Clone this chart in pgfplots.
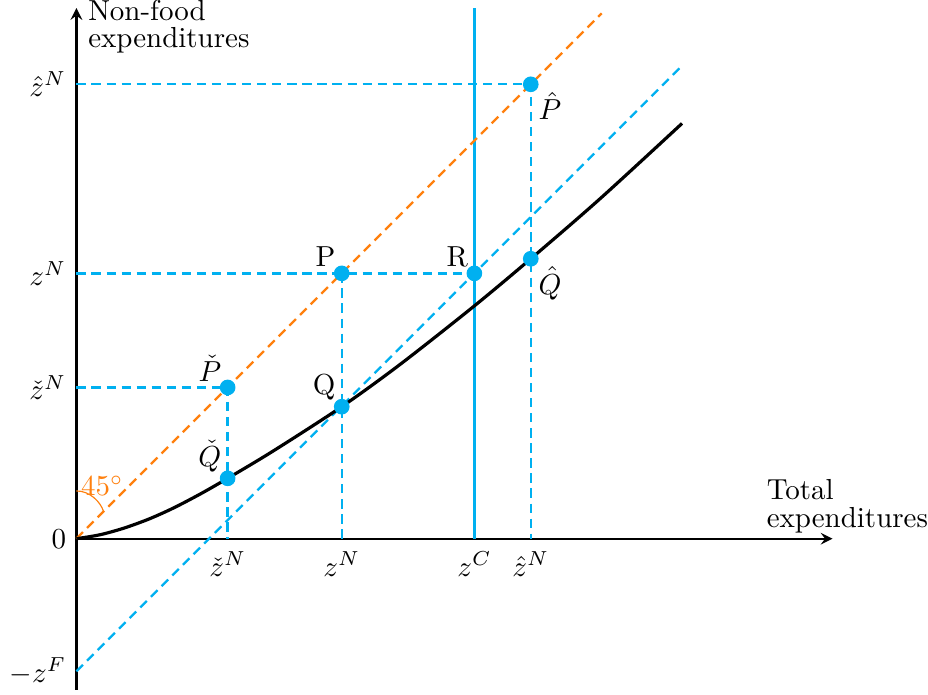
\documentclass[border=0pt]{standalone}
\usepackage{pgfplots}
\pgfplotsset{compat=1.18}
\definecolor{ccyan}{RGB}{0,176,240}
\definecolor{corange}{RGB}{255,128,14}
\tikzset{dsh/.style={thick, dash pattern=on 3.2pt off 2pt}}

\begin{document}
\begin{tikzpicture}
\begin{axis}[
    x=22.9pt, y=22.9pt,
    axis lines=middle,
    axis line style={thick},
    xmin=0, xmax=11.4, ymin=-2.28, ymax=8,
    xtick={2.28,4,6,6.85},
    xticklabels={$\check{z}^N$,$z^N$,$z^C$,$\hat{z}^N$},
    ytick={-2,0,2.28,4,6.85},
    yticklabels={$-z^F$,$0$,$\check{z}^N$,$z^N$,$\hat{z}^N$},
    xticklabel style={yshift=-1pt},
    major tick length=0pt,
    hide obscured y ticks=false,
    clip=false,
  ]
  % guide lines
  \addplot[ccyan, dsh] coordinates {(0,6.85) (6.85,6.85) (6.85,0)};
  \addplot[ccyan, dsh] coordinates {(0,4) (6,4)};
  \addplot[ccyan, dsh] coordinates {(4,4) (4,0)};
  \addplot[ccyan, dsh] coordinates {(0,2.28) (2.28,2.28) (2.28,0)};
  \addplot[ccyan, thick] coordinates {(6,0) (6,8)};
  \addplot[corange, dsh] coordinates {(0,0) (7.92,7.92)};
  \addplot[ccyan, dsh] coordinates {(0,-2) (9.12,7.12)};
  % Engel curve
  \addplot[black, line width=1.1pt, smooth] coordinates {
    (0,0) (0.35,0.058) (0.71,0.157) (1.09,0.295) (1.46,0.461) (1.87,0.675)
    (2.28,0.91) (2.97,1.324) (4,1.99) (4.89,2.635) (6,3.51) (6.85,4.22)
    (7.9,5.13) (9.13,6.26)};
  % points
  \addplot[only marks, mark=*, ccyan, mark size=2.5pt] coordinates {
    (2.28,2.28) (2.28,0.91) (4,4) (4,1.99) (6,4) (6.85,6.85) (6.85,4.22)};

  \node[above left, inner sep=2pt] at (axis cs:2.28,2.28) {$\check{P}$};
  \node[above left, inner sep=2pt] at (axis cs:2.28,0.91) {$\check{Q}$};
  \node[above left, inner sep=2pt] at (axis cs:4,4) {P};
  \node[above left, inner sep=2pt] at (axis cs:4,1.99) {Q};
  \node[above left, inner sep=2pt] at (axis cs:6,4) {R};
  \node[below right, inner sep=2.5pt] at (axis cs:6.85,6.85) {$\hat{P}$};
  \node[below right, inner sep=2.5pt] at (axis cs:6.85,4.22) {$\hat{Q}$};

  % 45 degree mark
  \draw[corange, thin] (axis cs:0,0.72) .. controls (axis cs:0.2,0.72) and (axis cs:0.36,0.56) .. (axis cs:0.41,0.41);
  \node[corange] at (axis cs:0.39,0.8) {$45^\circ$};

  \node[anchor=north west, align=left, inner sep=0pt] at (axis cs:0.17,8.13) {Non-food\\[-2.7pt]expenditures};
  \node[anchor=south west, align=left, inner sep=0pt] at (axis cs:10.4,0.08) {Total\\[-2.5pt]expenditures};
\end{axis}
\end{tikzpicture}
\end{document}
